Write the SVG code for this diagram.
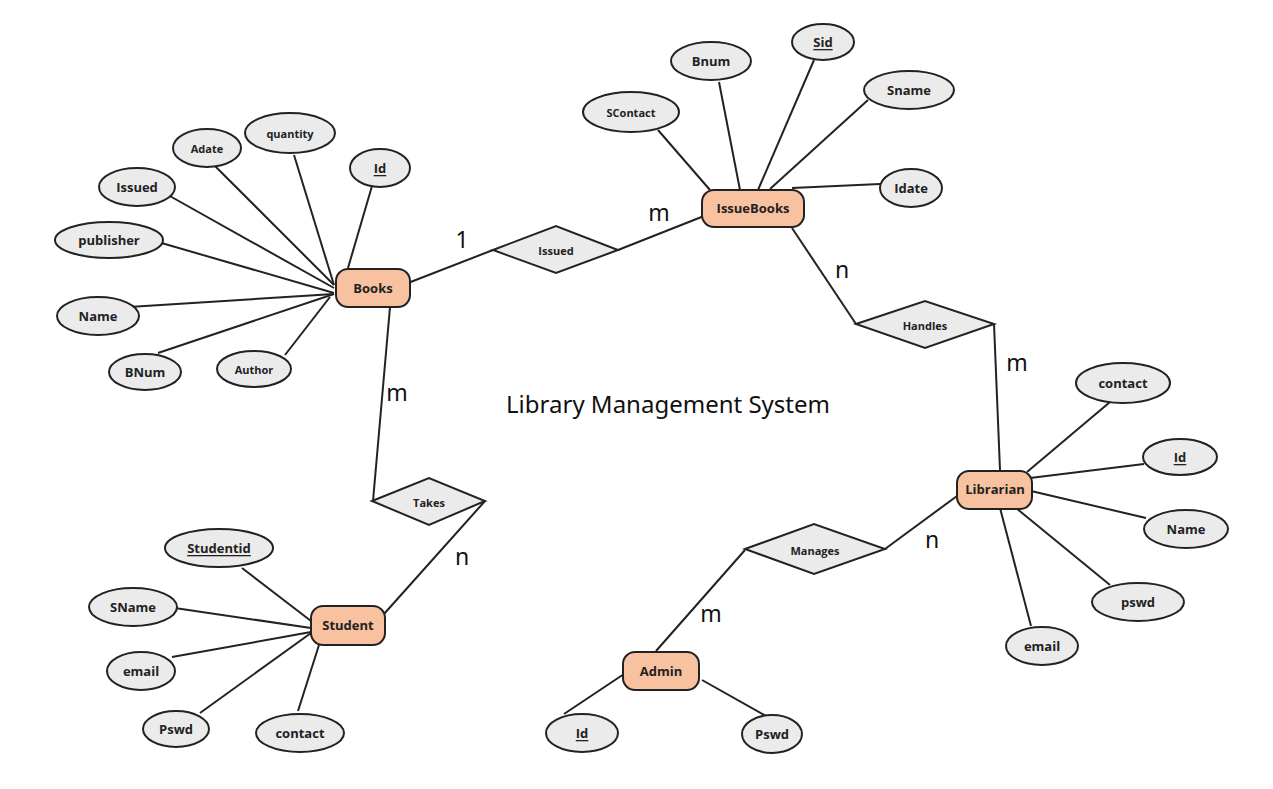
<svg xmlns="http://www.w3.org/2000/svg" width="1273" height="789" viewBox="0 0 1273 789">
<style>
.ent{fill:#F8C1A0;stroke:#222;stroke-width:2}
.att{fill:#EBEBEB;stroke:#222;stroke-width:2}
.rel{fill:#EBEBEB;stroke:#222;stroke-width:2}
.ln{stroke:#222;stroke-width:2;fill:none}
.t{font-family:"Open Sans","Noto Sans",sans-serif;font-weight:bold;font-size:13px;fill:#222;text-anchor:middle;dominant-baseline:central}
.s{font-size:11px}
.u{text-decoration:underline}
.card{font-family:"Noto Sans","Open Sans",sans-serif;font-size:23px;fill:#111;text-anchor:middle;dominant-baseline:central}
.title{font-family:"Noto Sans","Open Sans",sans-serif;font-size:24px;fill:#111;text-anchor:middle;dominant-baseline:central}
</style>
<rect width="1273" height="789" fill="#fff"/>
<g id="connectors">
<line class="ln" x1="215" y1="166" x2="334" y2="285"/>
<line class="ln" x1="294" y1="155" x2="334" y2="285"/>
<line class="ln" x1="372" y1="186" x2="348" y2="268"/>
<line class="ln" x1="168" y1="195" x2="334" y2="288"/>
<line class="ln" x1="158" y1="242" x2="334" y2="293"/>
<line class="ln" x1="129" y1="307" x2="334" y2="294"/>
<line class="ln" x1="158" y1="353" x2="334" y2="294"/>
<line class="ln" x1="285" y1="355" x2="330" y2="297"/>
<line class="ln" x1="408" y1="283" x2="493" y2="250"/>
<line class="ln" x1="618" y1="250" x2="704" y2="216"/>
<line class="ln" x1="792" y1="228" x2="856" y2="324"/>
<line class="ln" x1="994" y1="324" x2="1000" y2="470"/>
<line class="ln" x1="390" y1="307" x2="373" y2="501"/>
<line class="ln" x1="485" y1="501" x2="384" y2="614"/>
<line class="ln" x1="957" y1="496" x2="885" y2="549"/>
<line class="ln" x1="745" y1="550" x2="656" y2="651"/>
<line class="ln" x1="658" y1="130" x2="710" y2="190"/>
<line class="ln" x1="719" y1="82" x2="740" y2="190"/>
<line class="ln" x1="814" y1="60" x2="758" y2="190"/>
<line class="ln" x1="868" y1="100" x2="770" y2="189"/>
<line class="ln" x1="880" y1="184" x2="792" y2="188"/>
<line class="ln" x1="242" y1="568" x2="311" y2="621"/>
<line class="ln" x1="168" y1="607" x2="311" y2="628"/>
<line class="ln" x1="172" y1="657" x2="311" y2="632"/>
<line class="ln" x1="200" y1="713" x2="311" y2="633"/>
<line class="ln" x1="298" y1="711" x2="319" y2="645"/>
<line class="ln" x1="1110" y1="402" x2="1027" y2="472"/>
<line class="ln" x1="1144" y1="464" x2="1030" y2="478"/>
<line class="ln" x1="1146" y1="518" x2="1031" y2="491"/>
<line class="ln" x1="1110" y1="585" x2="1016" y2="508"/>
<line class="ln" x1="1031" y1="626" x2="1000" y2="508"/>
<line class="ln" x1="564" y1="714" x2="624" y2="674"/>
<line class="ln" x1="766" y1="716" x2="702" y2="680"/>
</g>
<g id="books"><rect class="ent" x="336" y="269" width="74" height="38" rx="12"/><text class="t" x="373" y="288">Books</text></g>
<g id="issuebooks"><rect class="ent" x="702" y="190" width="102" height="37" rx="12"/><text class="t" x="753" y="208">IssueBooks</text></g>
<g id="student"><rect class="ent" x="311" y="606" width="74" height="39" rx="12"/><text class="t" x="348" y="625">Student</text></g>
<g id="librarian"><rect class="ent" x="957" y="471" width="75" height="38" rx="12"/><text class="t" x="995" y="489">Librarian</text></g>
<g id="admin"><rect class="ent" x="623" y="652" width="76" height="38" rx="12"/><text class="t" x="661" y="671">Admin</text></g>

<g id="issued"><polygon class="rel" points="493,250 556,226 618,250 556,273"/><text class="t s" x="556" y="250">Issued</text></g>
<g id="handles"><polygon class="rel" points="856,324 925,301 994,324 925,348"/><text class="t s" x="925" y="325">Handles</text></g>
<g id="takes"><polygon class="rel" points="372,501 429,478 485,501 429,525"/><text class="t s" x="429" y="502">Takes</text></g>
<g id="manages"><polygon class="rel" points="745,549 814,524 885,549 814,574"/><text class="t s" x="815" y="550">Manages</text></g>

<g id="b-adate"><ellipse class="att" cx="207" cy="148" rx="34" ry="19"/><text class="t s" x="207" y="148">Adate</text></g>
<g id="b-quantity"><ellipse class="att" cx="290" cy="133" rx="45" ry="20"/><text class="t s" x="290" y="133">quantity</text></g>
<g id="b-id"><ellipse class="att" cx="380" cy="168" rx="30" ry="19"/><text class="t u" x="380" y="168">Id</text></g>
<g id="b-issued"><ellipse class="att" cx="137" cy="187" rx="38" ry="19"/><text class="t" x="137" y="187">Issued</text></g>
<g id="b-publisher"><ellipse class="att" cx="109" cy="240" rx="54" ry="18"/><text class="t" x="109" y="240">publisher</text></g>
<g id="b-name"><ellipse class="att" cx="98" cy="316" rx="41" ry="19"/><text class="t" x="98" y="316">Name</text></g>
<g id="b-bnum"><ellipse class="att" cx="145" cy="372" rx="36" ry="18"/><text class="t" x="145" y="372">BNum</text></g>
<g id="b-author"><ellipse class="att" cx="254" cy="369" rx="37" ry="18"/><text class="t s" x="254" y="369">Author</text></g>

<g id="i-scontact"><ellipse class="att" cx="631" cy="112" rx="48" ry="20"/><text class="t s" x="631" y="112">SContact</text></g>
<g id="i-bnum"><ellipse class="att" cx="711" cy="61" rx="40" ry="19"/><text class="t" x="711" y="61">Bnum</text></g>
<g id="i-sid"><ellipse class="att" cx="823" cy="42" rx="31" ry="18"/><text class="t u" x="823" y="42">Sid</text></g>
<g id="i-sname"><ellipse class="att" cx="909" cy="90" rx="45" ry="19"/><text class="t" x="909" y="90">Sname</text></g>
<g id="i-idate"><ellipse class="att" cx="911" cy="188" rx="31" ry="19"/><text class="t" x="911" y="188">Idate</text></g>

<g id="s-studentid"><ellipse class="att" cx="219" cy="548" rx="54" ry="19"/><text class="t u" x="219" y="548">Studentid</text></g>
<g id="s-sname"><ellipse class="att" cx="133" cy="607" rx="44" ry="19"/><text class="t" x="133" y="607">SName</text></g>
<g id="s-email"><ellipse class="att" cx="141" cy="671" rx="34" ry="19"/><text class="t" x="141" y="671">email</text></g>
<g id="s-pswd"><ellipse class="att" cx="176" cy="729" rx="33" ry="18"/><text class="t" x="176" y="729">Pswd</text></g>
<g id="s-contact"><ellipse class="att" cx="300" cy="733" rx="44" ry="19"/><text class="t" x="300" y="733">contact</text></g>

<g id="l-contact"><ellipse class="att" cx="1123" cy="383" rx="47" ry="20"/><text class="t" x="1123" y="383">contact</text></g>
<g id="l-id"><ellipse class="att" cx="1180" cy="457" rx="37" ry="18"/><text class="t u" x="1180" y="457">Id</text></g>
<g id="l-name"><ellipse class="att" cx="1186" cy="529" rx="42" ry="19"/><text class="t" x="1186" y="529">Name</text></g>
<g id="l-pswd"><ellipse class="att" cx="1138" cy="602" rx="46" ry="19"/><text class="t" x="1138" y="602">pswd</text></g>
<g id="l-email"><ellipse class="att" cx="1042" cy="646" rx="36" ry="19"/><text class="t" x="1042" y="646">email</text></g>

<g id="a-id"><ellipse class="att" cx="582" cy="733" rx="36" ry="19"/><text class="t u" x="582" y="733">Id</text></g>
<g id="a-pswd"><ellipse class="att" cx="772" cy="734" rx="30" ry="19"/><text class="t" x="772" y="734">Pswd</text></g>

<g id="labels">
<text class="card" x="462" y="239">1</text>
<text class="card" x="659" y="212">m</text>
<text class="card" x="842" y="269">n</text>
<text class="card" x="1017" y="362">m</text>
<text class="card" x="397" y="392">m</text>
<text class="card" x="462" y="556">n</text>
<text class="card" x="932" y="539">n</text>
<text class="card" x="711" y="613">m</text>
<text class="title" x="668" y="403">Library Management System</text>
</g>
</svg>
